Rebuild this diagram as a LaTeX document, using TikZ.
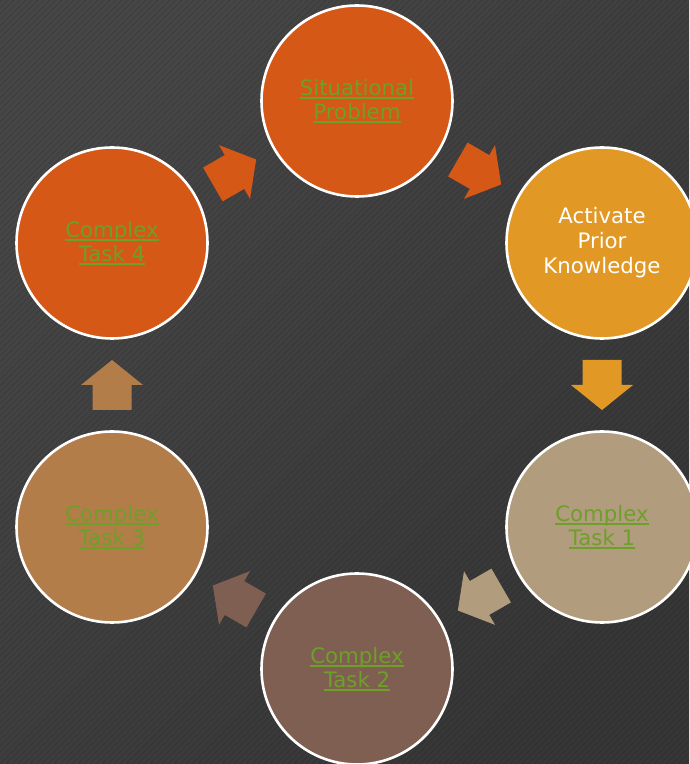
\documentclass[tikz,border=0pt]{standalone}
\usepackage{fontspec}
\setmainfont{DejaVu Sans}
\usetikzlibrary{calc}
\definecolor{cOrange}{HTML}{D55816}
\definecolor{cGold}{HTML}{E19825}
\definecolor{cTan}{HTML}{B19C7D}
\definecolor{cBrown}{HTML}{7F5F52}
\definecolor{cCopper}{HTML}{B27D49}
\definecolor{cLink}{HTML}{6E9F29}
\definecolor{bgLight}{HTML}{474747}
\definecolor{bgDark}{HTML}{373737}
\newcommand{\ulk}[1]{\leavevmode\setbox0=\hbox{#1}\rlap{\rule[-4pt]{\wd0}{1.8pt}}\box0}
\tikzset{
  circ/.style={circle, minimum size=191pt, inner sep=0pt, draw=white, line width=2.6pt,
    align=center, font=\fontsize{21.3}{24}\selectfont},
  linktext/.style={text=cLink},
  blockarrow/.style={fill=#1, draw=none}
}
\newcommand{\barrow}[3]{% position, angle, colour
  \fill[blockarrow=#3, shift={#1}, rotate=#2]
    (-25,-19.5) -- (0,-19.5) -- (0,-31) -- (25,0) -- (0,31) -- (0,19.5) -- (-25,19.5) -- cycle;}
\begin{document}
\begin{tikzpicture}[x=1pt,y=1pt]
\useasboundingbox (0,0) rectangle (689,764);
\shade[top color=bgLight, bottom color=bgDark, shading angle=45] (0,0) rectangle (689,764);
\begin{scope}
  \clip (0,0) rectangle (689,764);
  \foreach \i in {-780,-774,...,700}
    \draw[black, opacity=0.08, line width=2pt] (\i,0) -- ++(770,770);
\end{scope}

\node[circ, fill=cOrange, linktext] (sp) at (357,663) {\ulk{Situational}\\\ulk{Problem}};
\node[circ, fill=cGold, text=white, font=\fontsize{21.3}{25}\selectfont] (ap) at (602,521) {Activate\\Prior\\Knowledge};
\node[circ, fill=cTan, linktext] (t1) at (602,237) {\ulk{Complex}\\\ulk{Task 1}};
\node[circ, fill=cBrown, linktext] (t2) at (357,95) {\ulk{Complex}\\\ulk{Task 2}};
\node[circ, fill=cCopper, linktext] (t3) at (112,237) {\ulk{Complex}\\\ulk{Task 3}};
\node[circ, fill=cOrange, linktext] (t4) at (112,521) {\ulk{Complex}\\\ulk{Task 4}};

\coordinate (m1) at ($(sp)!0.5!(ap)$);
\coordinate (m2) at ($(ap)!0.5!(t1)$);
\coordinate (m3) at ($(t1)!0.5!(t2)$);
\coordinate (m4) at ($(t2)!0.5!(t3)$);
\coordinate (m5) at ($(t3)!0.5!(t4)$);
\coordinate (m6) at ($(t4)!0.5!(sp)$);

\barrow{(m1)}{-30}{cOrange}
\barrow{(m2)}{-90}{cGold}
\barrow{(m3)}{-150}{cTan}
\barrow{(m4)}{150}{cBrown}
\barrow{(m5)}{90}{cCopper}
\barrow{(m6)}{30}{cOrange}
\end{tikzpicture}
\end{document}
